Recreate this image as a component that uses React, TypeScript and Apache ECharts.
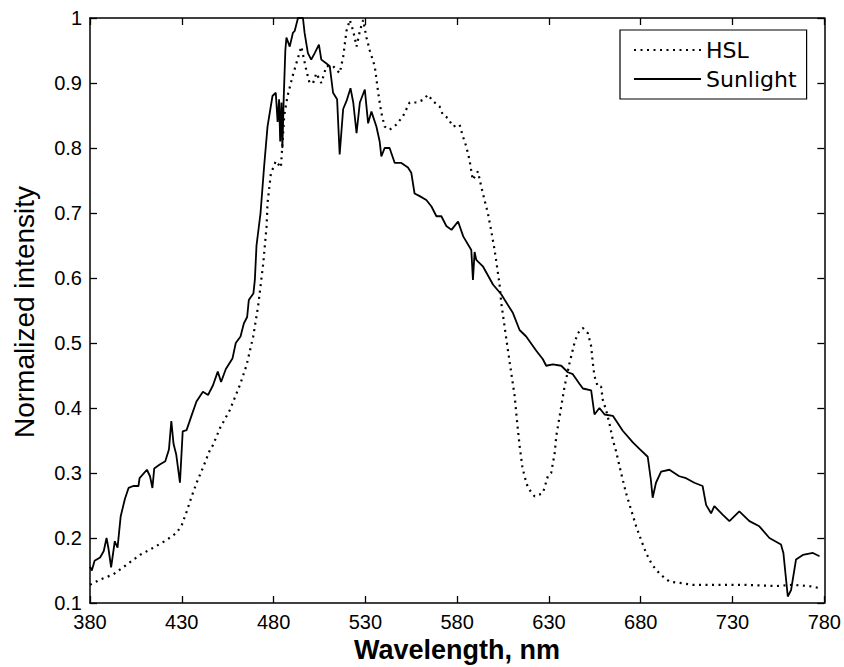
import React, { useEffect, useRef } from "react";
import * as echarts from "echarts";

const xTicks = [380, 430, 480, 530, 580, 630, 680, 730, 780];

const sunWavelength = [
  380, 381, 382.5, 385.5, 387.5, 389, 390, 391.5, 393.5, 395, 396.7, 399, 401, 403.6, 406.4, 407,
  411, 412.7, 414, 415, 418, 421, 423, 424.3, 425.5, 427, 429, 430.5, 432.6, 435.4, 438, 441.5,
  444.3, 447, 449.6, 451.4, 454, 457.6, 459.4, 462, 463.8, 465.6, 466.5, 469, 469.8, 470.7, 472.9,
  474.8, 476.7, 479.4, 481.2, 482.2, 483, 483.6, 484.3, 484.8, 485.5, 486.4, 487, 488.8, 490.5,
  491.5, 493.3, 496, 496.9, 498.7, 500.5, 502.4, 504.7, 506, 508.8, 510.6, 512.4, 514.6, 516,
  517.9, 519.7, 521.9, 523.4, 525.2, 527, 529.7, 531.5, 533.3, 536, 537.8, 538.7, 540.5, 543.2,
  546, 549.6, 553.2, 555, 556.8, 559.6, 563.2, 566, 568.7, 571.4, 574.1, 576.9, 580.5, 583.3,
  587.7, 588.6, 589.5, 590.4, 594, 599.5, 604, 610.4, 614, 617.6, 623.1, 626.7, 628.5, 632.1,
  636.7, 640.3, 643, 646.7, 648.5, 653, 654.8, 657.5, 660.3, 664.8, 670.2, 675.7, 679.3, 683.8,
  685.5, 686.5, 688.3, 691.1, 695.6, 701, 704.7, 709.2, 713.7, 715.6, 718.3, 720.1, 724.6, 728.3,
  733.7, 739.2, 744.6, 750.1, 756.4, 757.7, 760.1, 761.9, 764.6, 768.3, 773.8, 777.4,
];
const sunIntensity = [
  0.156, 0.15, 0.165, 0.17, 0.18, 0.2, 0.185, 0.155, 0.195, 0.185, 0.233, 0.26, 0.277, 0.28, 0.28, 0.292,
  0.305, 0.295, 0.277, 0.307, 0.313, 0.318, 0.336, 0.38, 0.345, 0.328, 0.285, 0.364, 0.366, 0.389, 0.41, 0.425,
  0.42, 0.435, 0.456, 0.44, 0.46, 0.476, 0.5, 0.51, 0.53, 0.54, 0.566, 0.576, 0.597, 0.65, 0.7,
  0.77, 0.833, 0.88, 0.885, 0.84, 0.875, 0.81, 0.87, 0.8, 0.875, 0.95, 0.97, 0.956, 0.977,
  0.98, 1.0, 1.0, 0.977, 0.946, 0.936, 0.946, 0.959, 0.936, 0.93, 0.926, 0.885, 0.875, 0.79,
  0.86, 0.872, 0.892, 0.87, 0.823, 0.87, 0.89, 0.838, 0.856, 0.833, 0.81, 0.787, 0.8, 0.8,
  0.777, 0.777, 0.77, 0.762, 0.73, 0.726, 0.72, 0.71, 0.695, 0.695, 0.68, 0.674, 0.687, 0.664,
  0.643, 0.597, 0.64, 0.628, 0.618, 0.59, 0.575, 0.546, 0.52, 0.51, 0.488, 0.475, 0.465, 0.467,
  0.465, 0.455, 0.452, 0.437, 0.43, 0.427, 0.39, 0.4, 0.39, 0.388, 0.365, 0.347, 0.337, 0.325,
  0.29, 0.262, 0.285, 0.302, 0.305, 0.295, 0.292, 0.285, 0.28, 0.251, 0.238, 0.249, 0.236, 0.226,
  0.241, 0.226, 0.218, 0.2, 0.19, 0.177, 0.11, 0.12, 0.167, 0.174, 0.177, 0.172,
];

const hslWavelength = [
  380, 385.5, 392.7, 400, 407.2, 414.5, 421.8, 427.2, 430, 432.7, 435.4, 438.1, 441.8, 445.4, 447,
  450.8, 456.2, 461.6, 465.3, 468.9, 471.6, 474.4, 476.2, 476.7, 478.5, 481.2, 484, 485.8, 487.6,
  490.3, 493, 495.1, 497.8, 499.6, 501.5, 503.3, 506, 508.8, 512.4, 516, 517.9, 519.7, 521.5, 523.4,
  525.2, 527, 528.8, 530.6, 532.4, 535.1, 537, 538.7, 540.5, 543.2, 546.9, 550.5, 554.1, 557.8,
  561.4, 564.1, 566.8, 570.4, 572.2, 575, 577.7, 581.3, 583.1, 584.9, 586.7, 588.5, 591.3, 593.1,
  594.9, 596.7, 598.6, 600.4, 602.2, 603.1, 604, 605.8, 607.6, 609.4, 611.3, 612.5, 614, 615.5,
  616.7, 618.6, 622.2, 626.7, 629.4, 631.2, 633.1, 634, 635.8, 638.5, 641.2, 643.9, 645.7, 648.5,
  651.2, 653, 653.9, 654.8, 656.6, 658.4, 659.3, 661.1, 662.9, 664.8, 666.6, 669.3, 672, 674.7,
  677.5, 680.2, 682.9, 685.6, 688.3, 692, 695.6, 701, 708.3, 717.4, 726.4, 735.5, 744.6, 753.7,
  762.8, 771.8, 777.4,
];
const hslIntensity = [
  0.128, 0.136, 0.144, 0.159, 0.174, 0.185, 0.197, 0.208, 0.22, 0.241, 0.264, 0.285, 0.31, 0.336, 0.343,
  0.369, 0.397, 0.435, 0.466, 0.51, 0.557, 0.623, 0.68, 0.715, 0.76, 0.78, 0.77, 0.85, 0.88,
  0.91, 0.936, 0.956, 0.92, 0.9, 0.9, 0.915, 0.9, 0.926, 0.926, 0.915, 0.94, 0.98, 0.997, 0.98,
  0.956, 0.98, 0.997, 0.97, 0.95, 0.926, 0.885, 0.854, 0.833, 0.828, 0.836, 0.849, 0.87, 0.87,
  0.874, 0.882, 0.872, 0.864, 0.851, 0.846, 0.833, 0.836, 0.818, 0.803, 0.782, 0.751, 0.764, 0.741,
  0.72, 0.7, 0.672, 0.643, 0.608, 0.59, 0.562, 0.526, 0.49, 0.455, 0.419, 0.383, 0.342, 0.31,
  0.295, 0.277, 0.264, 0.269, 0.295, 0.3, 0.33, 0.357, 0.387, 0.433, 0.469, 0.5, 0.515, 0.523,
  0.515, 0.495, 0.469, 0.449, 0.433, 0.433, 0.413, 0.397, 0.377, 0.351, 0.333, 0.3, 0.269, 0.244,
  0.218, 0.197, 0.177, 0.162, 0.151, 0.141, 0.133, 0.131, 0.128, 0.128, 0.128, 0.128, 0.127, 0.126,
  0.128, 0.126, 0.123,
];

const seriesNames = ["HSL", "Sunlight"];

export default function App() {
  const ref = useRef<HTMLDivElement>(null);
  useEffect(() => {
    if (!ref.current) return;
    const chart = echarts.init(ref.current, null, { renderer: "svg" });
    const tickFont = "Liberation Sans, Arial, sans-serif";
    const axisCommon = {
      axisLine: { show: true, lineStyle: { color: "#000", width: 1.5 } },
      axisTick: { show: true, inside: true, length: 7, lineStyle: { color: "#000", width: 1.3 } },
      splitLine: { show: false },
    };
    chart.setOption({
      animation: false,
      backgroundColor: "#fff",
      grid: { left: 90, right: 19, top: 18, bottom: 64 },
      legend: {
        orient: "vertical",
        left: 620,
        top: 30,
        data: seriesNames,
        itemWidth: 67,
        itemHeight: 12,
        itemGap: 7,
        padding: [9, 10, 9, 13],
        borderColor: "#000",
        borderWidth: 1.2,
        borderRadius: 0,
        backgroundColor: "#fff",
        itemStyle: { color: "rgba(0,0,0,0)", borderWidth: 0, opacity: 0 },
        textStyle: { fontSize: 22, fontFamily: "DejaVu Sans, sans-serif", color: "#000" },
      },
      xAxis: [
        {
          type: "value",
          min: 380,
          max: 780,
          ...axisCommon,
          axisTick: { ...axisCommon.axisTick, customValues: xTicks },
          axisLabel: {
            customValues: xTicks,
            color: "#000",
            fontSize: 20,
            fontFamily: tickFont,
            margin: 9,
          },
        },
        {
          type: "value",
          position: "top",
          min: 380,
          max: 780,
          ...axisCommon,
          axisTick: { ...axisCommon.axisTick, customValues: xTicks },
          axisLabel: { show: false },
        },
      ],
      yAxis: [
        {
          type: "value",
          min: 0.1,
          max: 1,
          interval: 0.1,
          ...axisCommon,
          axisLabel: {
            color: "#000",
            fontSize: 20,
            fontFamily: tickFont,
            margin: 8,
            formatter: (v: number) => (Math.abs(v - 1) < 1e-6 ? "1" : v.toFixed(1)),
          },
        },
        {
          type: "value",
          position: "right",
          min: 0.1,
          max: 1,
          interval: 0.1,
          ...axisCommon,
          axisLabel: { show: false },
        },
      ],
      graphic: [
        {
          type: "text",
          x: 457,
          y: 650,
          style: {
            text: "Wavelength, nm",
            font: "bold 27px Liberation Sans, Arial, sans-serif",
            fill: "#000",
            textAlign: "center",
            textVerticalAlign: "middle",
          },
        },
        {
          type: "text",
          x: 24,
          y: 312,
          rotation: Math.PI / 2,
          style: {
            text: "Normalized intensity",
            font: "28px Liberation Sans, Arial, sans-serif",
            fill: "#000",
            textAlign: "center",
            textVerticalAlign: "middle",
          },
        },
      ],
      series: [
        {
          name: "HSL",
          type: "line",
          symbol: "none",
          data: hslWavelength.map((w, i) => [w, hslIntensity[i]]),
          lineStyle: { color: "#000", width: 2.2, type: [2, 4.5] },
          itemStyle: { color: "#000" },
        },
        {
          name: "Sunlight",
          type: "line",
          symbol: "none",
          data: sunWavelength.map((w, i) => [w, sunIntensity[i]]),
          lineStyle: { color: "#000", width: 1.8 },
          itemStyle: { color: "#000" },
        },
      ],
    });
    return () => chart.dispose();
  }, []);
  return (
    <div
      ref={ref}
      style={{ position: "absolute", left: 0, top: 0, width: 844, height: 667, background: "#fff" }}
    />
  );
}
